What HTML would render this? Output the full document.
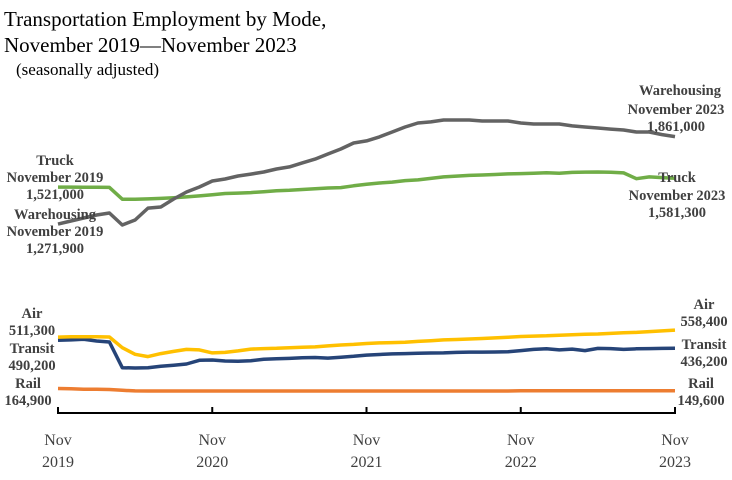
<!DOCTYPE html>
<html><head><meta charset="utf-8"><style>
body{margin:0;background:#fff;width:732px;height:480px;overflow:hidden}
svg{display:block;font-family:"Liberation Serif",serif}
.lb{font-weight:bold;font-size:14.5px;fill:#404040;text-anchor:middle}
.ax{font-size:16px;fill:#404040;text-anchor:middle}
</style></head><body>
<svg id="chart" width="732" height="480">
<text x="4" y="26" font-size="21" fill="#000">Transportation Employment by Mode,</text>
<text x="4" y="52" font-size="21" fill="#000">November 2019—November 2023</text>
<text x="16" y="75" font-size="17" fill="#000">(seasonally adjusted)</text>
<g id="series"></g>
<line x1="58" y1="413" x2="675" y2="413" stroke="#000" stroke-width="2"/>
<g id="xticks"></g>
<g>
<text class="lb" x="55" y="165">Truck</text>
<text class="lb" x="55" y="182">November 2019</text>
<text class="lb" x="55" y="199">1,521,000</text>
<text class="lb" x="55" y="219">Warehousing</text>
<text class="lb" x="55" y="236">November 2019</text>
<text class="lb" x="55" y="253">1,271,900</text>
<text class="lb" x="680" y="95">Warehousing</text>
<text class="lb" x="676" y="114">November 2023</text>
<text class="lb" x="676" y="131">1,861,000</text>
<text class="lb" x="677" y="182">Truck</text>
<text class="lb" x="677" y="200">November 2023</text>
<text class="lb" x="677" y="217">1,581,300</text>
<text class="lb" x="32" y="318">Air</text>
<text class="lb" x="32" y="335">511,300</text>
<text class="lb" x="32" y="353">Transit</text>
<text class="lb" x="32" y="370">490,200</text>
<text class="lb" x="28" y="388">Rail</text>
<text class="lb" x="28" y="405">164,900</text>
<text class="lb" x="704" y="309">Air</text>
<text class="lb" x="704" y="326">558,400</text>
<text class="lb" x="704" y="349">Transit</text>
<text class="lb" x="704" y="366">436,200</text>
<text class="lb" x="701" y="388">Rail</text>
<text class="lb" x="701" y="405">149,600</text>
</g>
</svg>
<script>
const tickLabels=["2019","2020","2021","2022","2023"];
const warehousing=[1272,1293,1313,1333,1347,1266,1300,1380,1387,1441,1488,1522,1562,1576,1596,1609,1623,1643,1657,1684,1710,1744,1778,1818,1832,1859,1892,1926,1953,1960,1973,1973,1973,1966,1966,1966,1953,1946,1946,1946,1933,1926,1919,1912,1906,1892,1892,1875,1861];
const truck=[1521,1521,1520,1520,1519,1440,1440,1442,1445,1450,1455,1462,1470,1478,1481,1484,1490,1496,1500,1505,1510,1515,1518,1530,1540,1549,1555,1565,1570,1580,1590,1595,1600,1603,1606,1610,1612,1615,1618,1614,1620,1622,1623,1621,1617,1578,1590,1585,1581];
const air=[511,513,514,514,512,440,395,380,400,415,428,425,405,408,418,430,434,436,440,443,445,452,458,462,468,472,474,476,482,487,492,495,498,502,506,510,515,518,520,524,527,530,532,536,540,543,548,553,558];
const transit=[490,492,496,485,478,305,303,305,315,322,330,355,357,350,348,352,362,365,368,372,374,370,376,382,390,394,398,400,402,404,405,408,410,410,411,412,420,428,432,425,430,420,435,434,428,432,434,435,436];
const rail=[165,163,160,160,158,153,149,148,148,148,148,148,148,148,148,148,148,148,148,148,148,148,148,148,148,148,148,148,148,148,148,148,148,148,148,148,150,150,150,150,150,150,150,150,150,150,150,150,149.6];
const x0=58,x1=675,nM=48;
function xs(i){return x0+(x1-x0)*i/nM;}
function ys(v){return 413-v*0.1485;}
const NS="http://www.w3.org/2000/svg";
const g=document.getElementById('series');
const defs=[["rail",rail,"#ed7d31"],["transit",transit,"#264478"],["air",air,"#ffc000"],["truck",truck,"#70ad47"],["warehousing",warehousing,"#636363"]];
defs.forEach(d=>{
 const p=document.createElementNS(NS,'polyline');
 p.setAttribute('points',d[1].map((v,i)=>xs(i).toFixed(1)+","+ys(v).toFixed(1)).join(" "));
 p.setAttribute('fill','none');p.setAttribute('stroke',d[2]);p.setAttribute('stroke-width','3.5');
 p.setAttribute('stroke-linejoin','round');
 
 
 g.appendChild(p);
});
const xt=document.getElementById('xticks');
tickLabels.forEach((t,k)=>{
 const x=xs(k*12);
 const l=document.createElementNS(NS,'line');
 l.setAttribute('x1',x);l.setAttribute('x2',x);l.setAttribute('y1',407);l.setAttribute('y2',414);
 l.setAttribute('stroke','#000');l.setAttribute('stroke-width','2');
 
 
 xt.appendChild(l);
 const a=document.createElementNS(NS,'text');
 a.setAttribute('class','ax');a.setAttribute('x',x);a.setAttribute('y',445);a.textContent='Nov';
 
 
 xt.appendChild(a);
 const b=document.createElementNS(NS,'text');
 b.setAttribute('class','ax');b.setAttribute('x',x);b.setAttribute('y',467);b.textContent=t;
 
 
 xt.appendChild(b);
});
</script>
</body></html>
